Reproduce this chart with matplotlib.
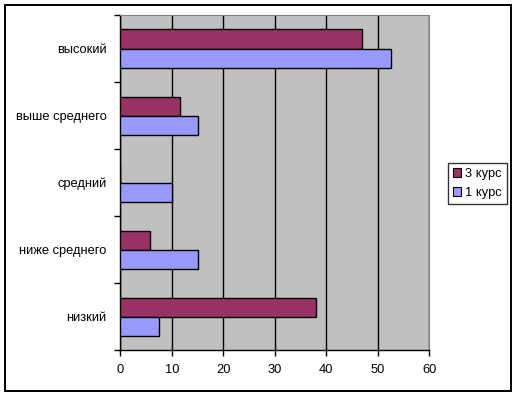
import matplotlib
matplotlib.use("Agg")
import matplotlib.pyplot as plt
from matplotlib.patches import Rectangle
import numpy as np

plt.rcParams['font.family'] = ['Liberation Sans', 'DejaVu Sans']

categories = ["низкий", "ниже среднего", "средний", "выше среднего", "высокий"]
kurs3 = [38.1, 5.8, 0, 11.6, 47.0]
kurs1 = [7.5, 15.1, 10.0, 15.1, 52.6]
series_names = ["3 курс", "1 курс"]
xticks = [0, 10, 20, 30, 40, 50, 60]

fig = plt.figure(figsize=(5.17, 3.97), dpi=100)
ax = fig.add_axes([0.233, 0.118, 0.597, 0.844])
ax.set_facecolor("#C0C0C0")

y = np.arange(len(categories))
h = 0.285
ax.barh(y + h / 2, kurs3, height=h, color="#993366", edgecolor="black", linewidth=1, label=series_names[0], zorder=3)
ax.barh(y - h / 2, kurs1, height=h, color="#9999FF", edgecolor="black", linewidth=1, label=series_names[1], zorder=3)

ax.set_xlim(0, 60)
ax.set_ylim(-0.5, len(categories) - 0.5)
ax.set_xticks(xticks)
ax.set_yticks(y)
ax.set_yticklabels(categories)
ax.set_yticks(np.arange(-0.5, len(categories)), minor=True)
ax.tick_params(axis='y', which='major', length=0, pad=10, labelsize=9.3)
ax.tick_params(axis='y', which='minor', length=4, width=1, direction='out')
ax.tick_params(axis='x', length=4, width=1, direction='out', labelsize=9.3, pad=6)
ax.xaxis.grid(True, color="black", linewidth=1, zorder=1)
ax.set_axisbelow(True)

for s in ['top', 'right']:
    ax.spines[s].set_color("#808080")
for s in ['left', 'bottom']:
    ax.spines[s].set_color("black")
    ax.spines[s].set_linewidth(1)

leg = fig.legend(loc='upper left', bbox_to_anchor=(0.866, 0.59), frameon=True, fancybox=False,
                 fontsize=9.3, handlelength=0.65, handleheight=0.65, handletextpad=0.3,
                 borderpad=0.4, borderaxespad=0, labelspacing=0.55)
leg.get_frame().set_edgecolor("black")
leg.get_frame().set_linewidth(1)
for p in leg.get_patches():
    p.set_edgecolor("black")
    p.set_linewidth(0.8)

fig.patches.append(Rectangle((0.0097, 0.0151), 0.979, 0.972, transform=fig.transFigure,
                             fill=False, edgecolor="black", linewidth=1.4))

fig.savefig("out.png", dpi=100)
